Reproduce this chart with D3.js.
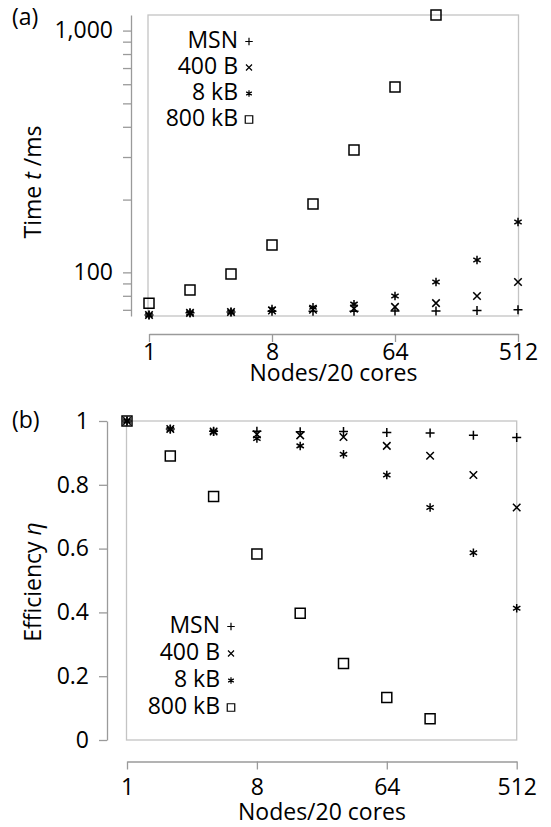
<html>
<script src="https://cdnjs.cloudflare.com/ajax/libs/d3/7.8.5/d3.min.js"></script>
<body style="margin:0"></body>
<script>
// nodes (x) and series
const nodes = [1, 2, 4, 8, 16, 32, 64, 128, 256, 512];
const seriesNames = ['MSN', '400 B', '8 kB', '800 kB'];

// (a) time t / ms
const timeMSN   = [66.6, 68.0, 68.5, 69.0, 69.1, 69.1, 69.3, 69.3, 69.6, 70.0];
const time400B  = [66.6, 68.0, 68.6, 69.5, 70.0, 70.8, 72.0, 74.6, 79.8, 91.2];
const time8kB   = [66.6, 67.9, 68.5, 70.5, 71.8, 73.9, 79.8, 91.2, 112.4, 161.5];
const time800kB = [74.6, 84.5, 98.4, 129.7, 191.7, 320.9, 584, 1161];

// (b) efficiency
const effMSN   = [1, 0.975, 0.968, 0.968, 0.966, 0.967, 0.964, 0.962, 0.955, 0.948];
const eff400B  = [1, 0.975, 0.967, 0.958, 0.955, 0.950, 0.922, 0.891, 0.831, 0.729];
const eff8kB   = [1, 0.974, 0.966, 0.945, 0.922, 0.896, 0.831, 0.729, 0.587, 0.413];
const eff800kB = [1, 0.890, 0.763, 0.583, 0.397, 0.240, 0.133, 0.067];

const xTicks = [1, 8, 64, 512];
const timeMajor = [100, 1000];
const timeMinor = [70, 80, 90, 200, 300, 400, 500, 600, 700, 800, 900];
const effTicks = [0, 0.2, 0.4, 0.6, 0.8, 1];

const timeSeries = [timeMSN, time400B, time8kB, time800kB];
const effSeries = [effMSN, eff400B, eff8kB, eff800kB];

const W = 551, H = 827;
const axisColor = '#9a9a9a', frameColor = '#c4c4c4';
const font = '"Open Sans", sans-serif';
const fs = 23;

const kinds = ['plus', 'times', 'star', 'square'];
const plotSize = [9, 7.5, 8.5, 10];
const legendSize = [7.5, 6, 6.5, 7.5];

function markerPath(kind, s) {
  const h = s / 2;
  if (kind == 'plus') return `M${-h},0H${h}M0,${-h}V${h}`;
  if (kind == 'times') return `M${-h},${-h}L${h},${h}M${-h},${h}L${h},${-h}`;
  if (kind == 'star') {
    const a = h * Math.cos(Math.PI / 6), b = h * Math.sin(Math.PI / 6);
    return `M0,${-h}V${h}M${-a},${-b}L${a},${b}M${-a},${b}L${a},${-b}`;
  }
  return `M${-h},${-h}H${h}V${h}H${-h}Z`;
}

const svg = d3.select('body').append('svg')
  .attr('width', W).attr('height', H)
  .style('font-family', font).style('font-size', fs + 'px');

function styleAxis(g) {
  g.attr('font-family', font).attr('font-size', fs);
  g.select('.domain').attr('stroke', axisColor).attr('stroke-width', 1.3);
  g.selectAll('.tick line').attr('stroke', axisColor).attr('stroke-width', 1.3);
  g.selectAll('.tick text').attr('fill', '#000');
}

function drawPoints(x, y, series) {
  series.forEach((vals, i) => {
    svg.append('g').selectAll('path')
      .data(vals.map((v, j) => [nodes[j], v]))
      .enter().append('path')
      .attr('transform', d => `translate(${x(d[0])},${y(d[1])})`)
      .attr('d', markerPath(kinds[i], plotSize[i]))
      .attr('fill', 'none').attr('stroke', '#000').attr('stroke-width', 1.5);
  });
}

function drawLegend(xText, y0, step) {
  const lg = svg.append('g').selectAll('g')
    .data(seriesNames).enter().append('g')
    .attr('transform', (d, i) => `translate(${xText},${y0 + i * step})`);
  lg.append('text').attr('text-anchor', 'end').attr('y', 8).text(d => d);
  lg.append('path')
    .attr('transform', 'translate(11,1.5)')
    .attr('d', (d, i) => markerPath(kinds[i], legendSize[i]))
    .attr('fill', 'none').attr('stroke', '#000').attr('stroke-width', 1.2);
}

// ---------- panel (a)
const x1 = d3.scaleLog().base(2).domain([1, 512]).range([149, 518]);
const y1 = d3.scaleLog().domain([66, 1160]).range([316, 15]);

svg.append('rect').attr('x', 148).attr('y', 15).attr('width', 370.5).attr('height', 301)
  .attr('fill', 'none').attr('stroke', frameColor).attr('stroke-width', 1.3);

svg.append('g').attr('transform', 'translate(131,0)')
  .call(d3.axisLeft(y1).tickValues(timeMinor.concat(timeMajor))
    .tickFormat(d => timeMajor.includes(d) ? d3.format(',')(d) : '')
    .tickSize(8).tickPadding(10).tickSizeOuter(0))
  .call(styleAxis);

svg.append('g').attr('transform', 'translate(0,334)')
  .call(d3.axisBottom(x1).tickValues(xTicks).tickFormat(d3.format('d'))
    .tickSize(8).tickPadding(2).tickSizeOuter(0))
  .call(styleAxis);

svg.append('text').attr('x', 333.5).attr('y', 381).attr('text-anchor', 'middle').text('Nodes/20 cores');
svg.append('text').attr('transform', 'translate(41,182) rotate(-90)').attr('text-anchor', 'middle')
  .call(t => {
    t.append('tspan').text('Time ');
    t.append('tspan').attr('font-style', 'italic').text('t');
    t.append('tspan').text(' /ms');
  });
svg.append('text').attr('x', 12).attr('y', 25).text('(a)');

drawPoints(x1, y1, timeSeries);
drawLegend(238, 40, 26);

// ---------- panel (b)
const x2 = d3.scaleLog().base(2).domain([1, 512]).range([127, 516.7]);
const y2 = d3.scaleLinear().domain([0, 1]).range([740, 421]);

svg.append('rect').attr('x', 126.5).attr('y', 421).attr('width', 390.2).attr('height', 319)
  .attr('fill', 'none').attr('stroke', frameColor).attr('stroke-width', 1.3);

svg.append('g').attr('transform', 'translate(107,0)')
  .call(d3.axisLeft(y2).tickValues(effTicks)
    .tickFormat(d => (d == 0 || d == 1) ? d3.format('d')(d) : d3.format('.1f')(d))
    .tickSize(8).tickPadding(10).tickSizeOuter(0))
  .call(styleAxis);

svg.append('g').attr('transform', 'translate(0,761.5)')
  .call(d3.axisBottom(x2).tickValues(xTicks).tickFormat(d3.format('d'))
    .tickSize(8).tickPadding(9).tickSizeOuter(0))
  .call(styleAxis);

svg.append('text').attr('x', 322).attr('y', 820).attr('text-anchor', 'middle').text('Nodes/20 cores');
svg.append('text').attr('transform', 'translate(41,582) rotate(-90)').attr('text-anchor', 'middle')
  .call(t => {
    t.append('tspan').text('Efficiency ');
    t.append('tspan').attr('font-style', 'italic').text('η');
  });
svg.append('text').attr('x', 12).attr('y', 428).text('(b)');

drawPoints(x2, y2, effSeries);
drawLegend(220, 625, 27);
</script>
</html>
